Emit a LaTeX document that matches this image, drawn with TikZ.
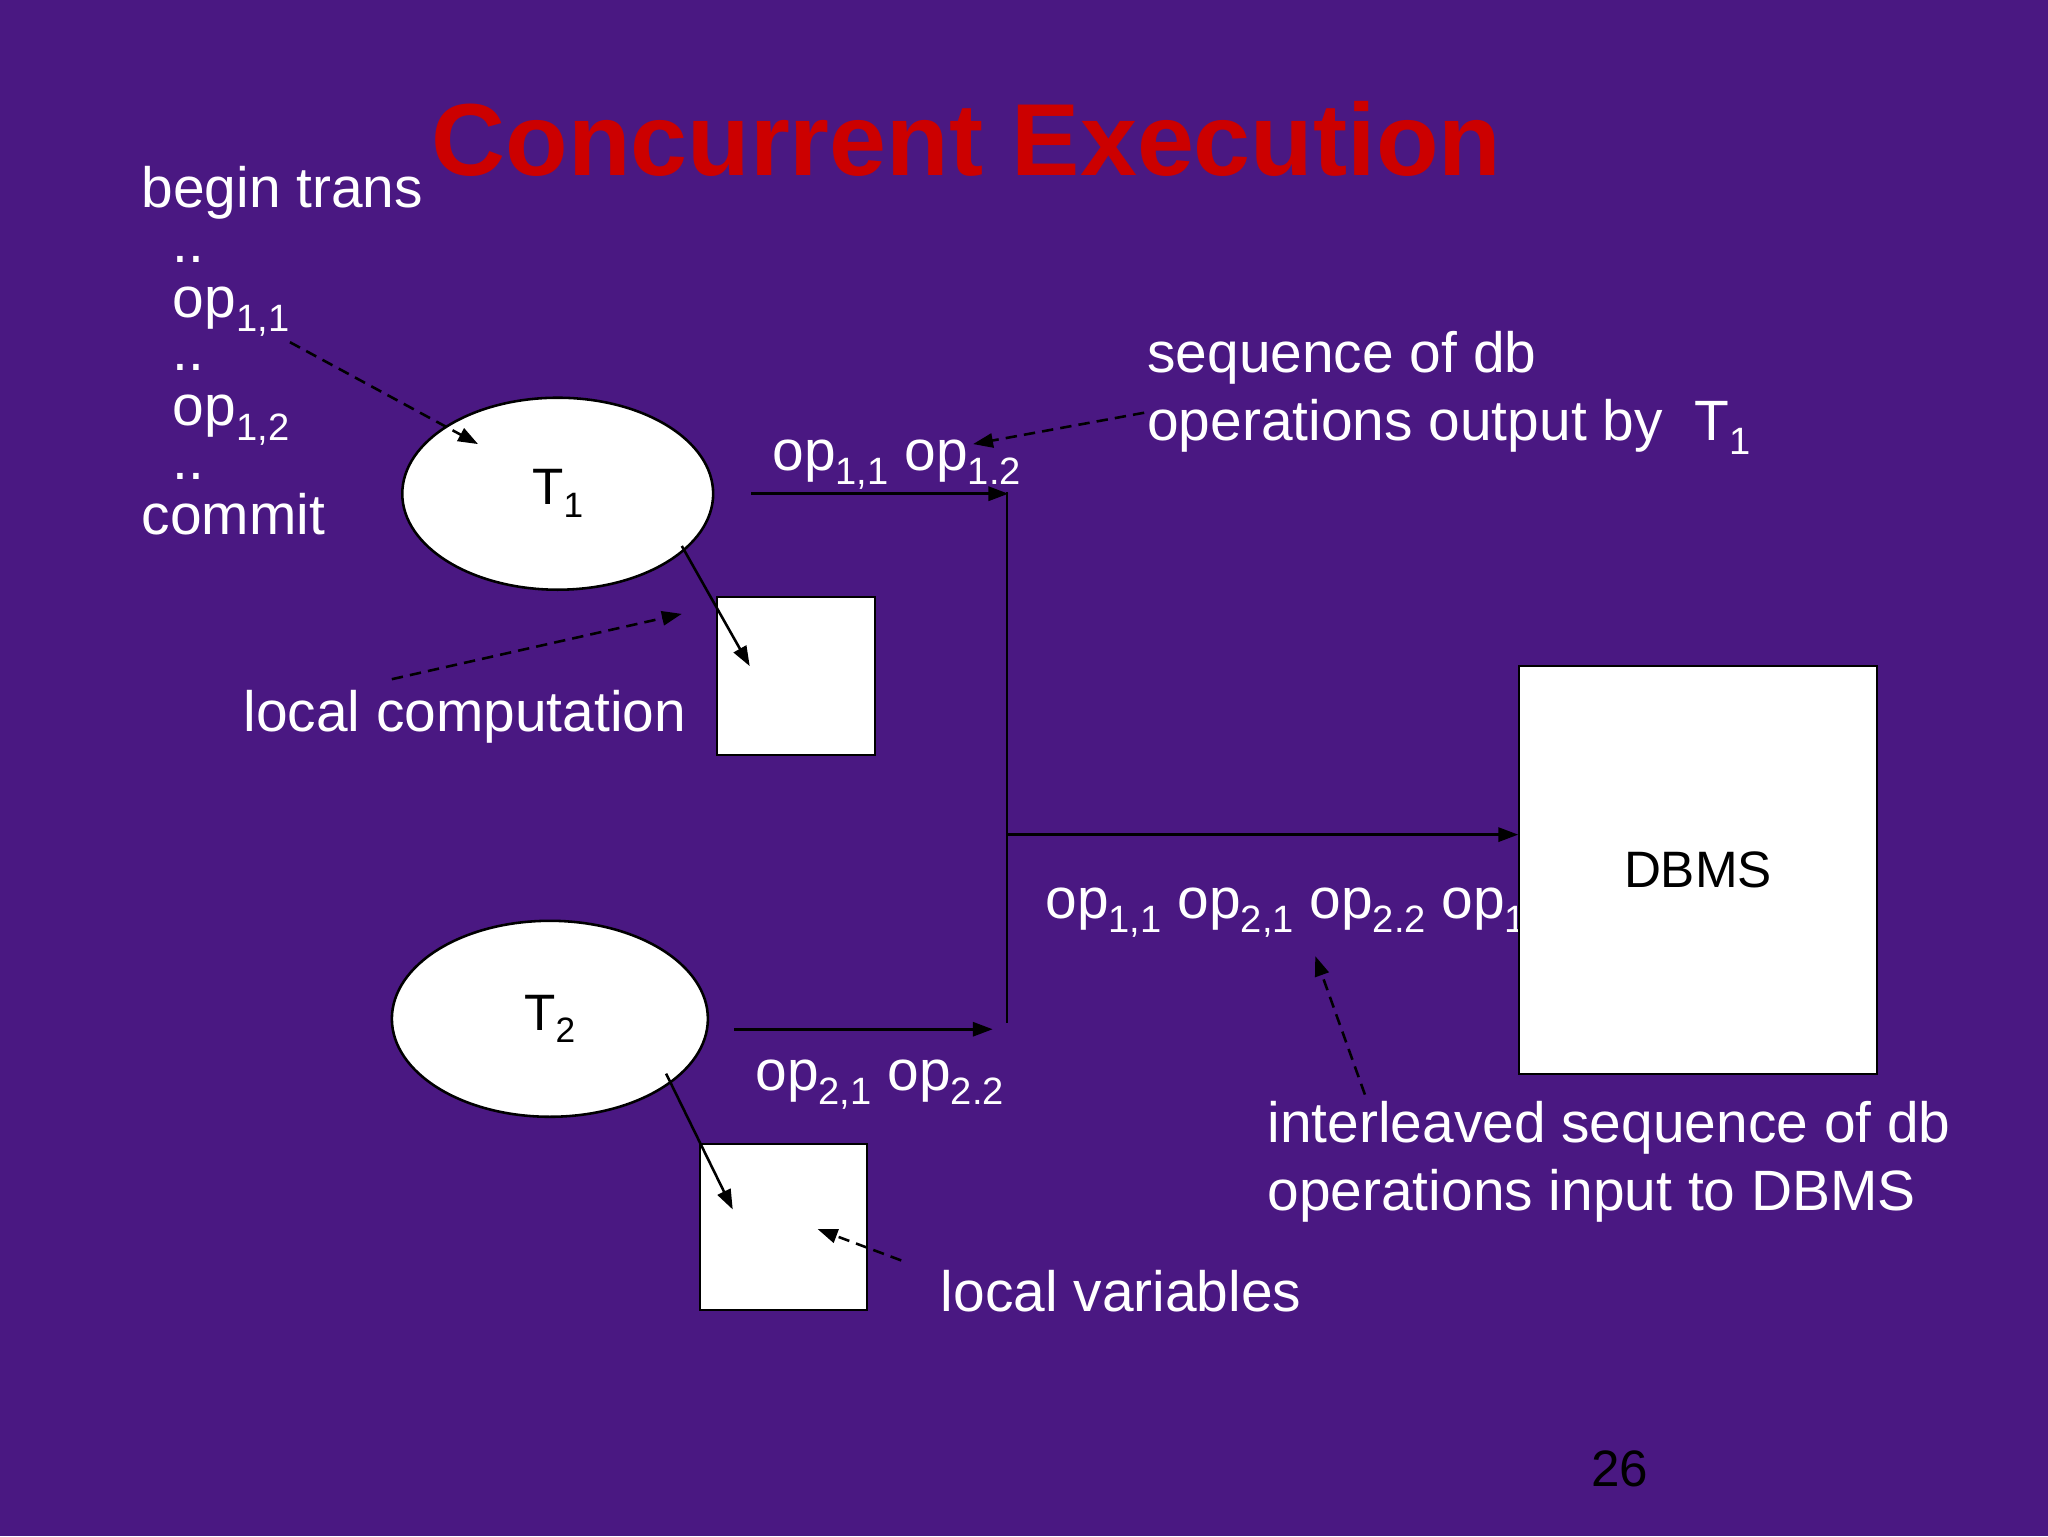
\documentclass[tikz,border=0pt]{standalone}
\usepackage{fontspec}
\setmainfont{Liberation Sans}
\usetikzlibrary{shapes.geometric,arrows.meta}
\definecolor{bgpurple}{RGB}{74,24,130}
\definecolor{titlered}{RGB}{204,0,0}
\newcommand{\sbs}[1]{\raisebox{-0.25em}{\fontsize{13.4}{14}\selectfont #1}}
\newcommand{\sbt}[1]{\raisebox{-0.25em}{\fontsize{12.4}{13}\selectfont #1}}
\begin{document}
\begin{tikzpicture}[x=0.4592pt,y={(0pt,-0.4592pt)},
  wtxt/.style={text=white, font=\fontsize{20}{24}\selectfont, inner sep=0pt, anchor=base west},
  ell/.style={ellipse, draw=black, line width=0.9pt, fill=white, inner sep=0pt, font=\fontsize{18}{22}\selectfont},
  wbox/.style={rectangle, draw=black, line width=0.6pt, fill=white, inner sep=0pt, font=\fontsize{18}{22}\selectfont},
  plainline/.style={draw=black, line width=0.8pt},
  conn/.style={draw=black, line width=0.9pt, -{Triangle[length=7pt,width=5pt]}},
  dconn/.style={conn, dash pattern=on 4pt off 2.5pt}]
\useasboundingbox (0,0) rectangle (1568,1176);
\fill[bgpurple] (0,0) rectangle (1568,1176);

% title
\node[anchor=base west, inner sep=0pt, text=titlered, font=\fontsize{36}{42}\selectfont\bfseries] (title) at (330,134) {Concurrent Execution};

% left list
\node[wtxt] (l1) at (108,159) {begin trans};
\node[wtxt] (l2) at (132,201) {..};
\node[wtxt] (l3) at (132,243) {op\sbs{1,1}};
\node[wtxt] (l4) at (132,284) {..};
\node[wtxt] (l5) at (132,326) {op\sbs{1,2}};
\node[wtxt] (l6) at (132,367) {..};
\node[wtxt] (l7) at (108,409) {commit};

% other labels
\node[wtxt] (o1) at (591,360) {op\sbs{1,1} op\sbs{1.2}};
\node[wtxt] (o2) at (578,835) {op\sbs{2,1} op\sbs{2.2}};
\node[wtxt] (o3) at (800,703) {op\sbs{1,1} op\sbs{2,1} op\sbs{2.2} op\sbs{1,2}};
\node[wtxt] (s1) at (878,285) {sequence of db};
\node[wtxt] (s2) at (878,337) {operations output by\ \ T\sbs{1}};
\node[wtxt] (lc) at (186,560) {local computation};
\node[wtxt] (lv) at (720,1004) {local variables};
\node[wtxt] (i1) at (970,875) {interleaved sequence of db};
\node[wtxt] (i2) at (970,927) {operations input to DBMS};
\node[anchor=base west, inner sep=0pt, text=black, font=\fontsize{18}{22}\selectfont] (pg) at (1218,1138) {26};

% shapes
\node[ell, minimum width=109.3pt, minimum height=67.5pt] (T1) at (427,378) {T\sbt{1}};
\node[ell, minimum width=111.1pt, minimum height=68.9pt] (T2) at (421,780) {T\sbt{2}};
\node[wbox, minimum width=55.6pt, minimum height=55.6pt] (B1) at (609.5,517.5) {};
\node[wbox, minimum width=58.8pt, minimum height=58.3pt] (B2) at (600,939.5) {};
\node[wbox, minimum width=125.8pt, minimum height=143.3pt] (DB) at (1300,666) {DBMS};

% connector points
\coordinate (t1o) at (575,378);
\coordinate (j1) at (772,378);
\coordinate (jt) at (771,377);
\coordinate (jb) at (771,783);
\coordinate (jm) at (771,639);
\coordinate (t2o) at (562,788);
\coordinate (j2) at (760,788);
\coordinate (a1s) at (522,418);
\coordinate (a1e) at (574,510);
\coordinate (a2s) at (510,822);
\coordinate (a2e) at (561,926);
\coordinate (d1s) at (222,262);
\coordinate (d1e) at (366,340);
\coordinate (d2s) at (300,520);
\coordinate (d2e) at (522,470);
\coordinate (d3s) at (876,316);
\coordinate (d3e) at (745,340);
\coordinate (d4s) at (690,965);
\coordinate (d4e) at (626,941);
\coordinate (d5s) at (1045,838);
\coordinate (d5e) at (1007,732);

% connectors
\draw[conn] (t1o) -- (j1);
\draw[plainline] (jt) -- (jb);
\draw[conn] (jm) -- (jm -| DB.west);
\draw[conn] (t2o) -- (j2);
\draw[conn] (a1s) -- (a1e);
\draw[conn] (a2s) -- (a2e);
\draw[dconn] (d1s) -- (d1e);
\draw[dconn] (d2s) -- (d2e);
\draw[dconn] (d3s) -- (d3e);
\draw[dconn] (d4s) -- (d4e);
\draw[dconn] (d5s) -- (d5e);
\end{tikzpicture}
\end{document}
